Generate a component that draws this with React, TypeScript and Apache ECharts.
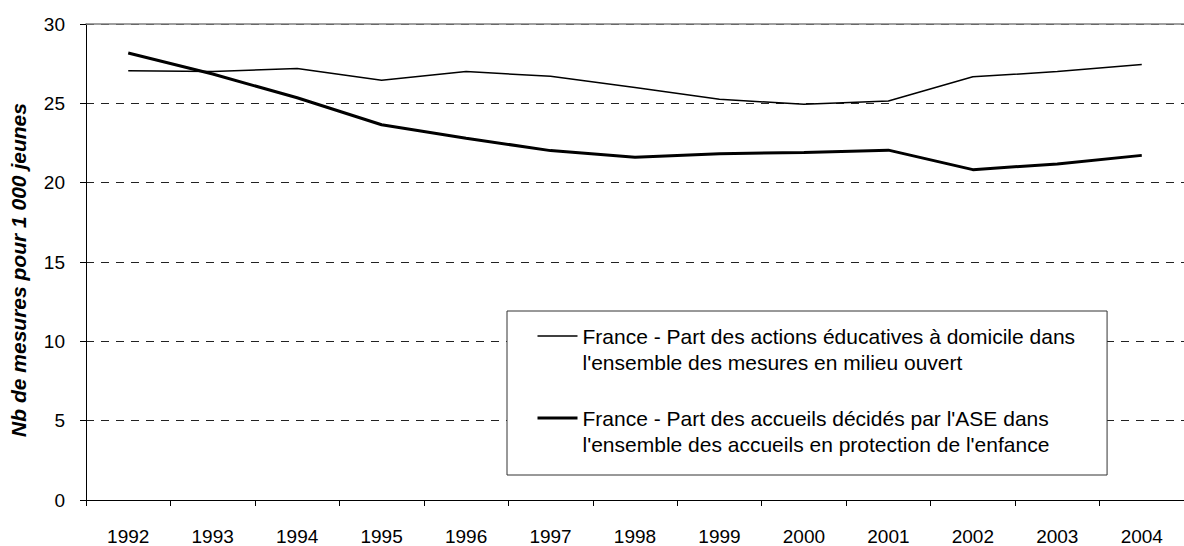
import React, { useEffect, useRef } from "react";
import * as echarts from "echarts";

const years = ["1992", "1993", "1994", "1995", "1996", "1997", "1998", "1999", "2000", "2001", "2002", "2003", "2004"];
const actionsEducatives = [27.05, 27.0, 27.2, 26.45, 27.0, 26.7, 26.0, 25.25, 24.95, 25.15, 26.67, 27.0, 27.45];
const accueilsASE = [28.17, 26.85, 25.35, 23.65, 22.8, 22.02, 21.6, 21.83, 21.9, 22.05, 20.82, 21.18, 21.72];
const seriesNames = [
  "France - Part des actions éducatives à domicile dans\nl'ensemble des mesures en milieu ouvert",
  "France - Part des accueils décidés par l'ASE dans\nl'ensemble des accueils en protection de l'enfance",
];
const lineWidths = [1.5, 3];
const yAxisTitle = "Nb de mesures pour 1 000 jeunes";

const FONT = "'Liberation Sans', Arial, sans-serif";

export default function App() {
  const ref = useRef<HTMLDivElement>(null);
  useEffect(() => {
    if (!ref.current) return;
    const chart = echarts.init(ref.current, null, { renderer: "svg" });
    const LH = 26;
    chart.setOption({
      animation: false,
      backgroundColor: "#ffffff",
      textStyle: { fontFamily: FONT },
      grid: { left: 85, top: 24, width: 1109.33, height: 480, containLabel: false },
      legend: {
        orient: "vertical",
        left: 507,
        top: 311,
        padding: [-14, 32, 18, 29],
        itemGap: 4,
        itemWidth: 40,
        itemHeight: 14,
        selectedMode: false,
        borderColor: "#333333",
        borderWidth: 1,
        backgroundColor: "#ffffff",
        itemStyle: { color: "transparent", borderColor: "transparent", borderWidth: 0, opacity: 0 },
        formatter: (name: string) => "\n" + name,
        textStyle: {
          fontFamily: FONT,
          fontSize: 21,
          color: "#000",
          lineHeight: LH,
        },
        data: seriesNames.map((n, i) => ({ name: n, lineStyle: { width: lineWidths[i], color: "#000" } })),
      },
      xAxis: [
        {
          type: "category",
          data: years,
          boundaryGap: true,
          position: "bottom",
          axisLine: { lineStyle: { color: "#000", width: 1 } },
          axisTick: { show: true, length: 6, lineStyle: { color: "#000" } },
          axisLabel: { color: "#000", fontSize: 19, fontFamily: FONT, margin: 27, interval: 0 },
          splitLine: { show: false },
        },
        {
          type: "category",
          data: years,
          position: "top",
          axisLine: { lineStyle: { color: "#808080", width: 1.5 } },
          axisTick: { show: false },
          axisLabel: { show: false },
          splitLine: { show: false },
        },
      ],
      yAxis: {
        type: "value",
        min: 0,
        max: 30,
        interval: 5,
        name: yAxisTitle,
        nameLocation: "middle",
        nameGap: 57,
        nameRotate: 90,
        nameTextStyle: {
          fontFamily: FONT,
          fontSize: 21,
          fontWeight: "bold",
          fontStyle: "italic",
          color: "#000",
          padding: [0, 16, 0, 0],
        },
        axisLine: { show: true, lineStyle: { color: "#000", width: 1 } },
        axisTick: { show: true, length: 6, lineStyle: { color: "#000" } },
        axisLabel: { color: "#000", fontSize: 19, fontFamily: FONT, margin: 21, padding: [0, 0, 6, 0] },
        splitLine: { show: true, lineStyle: { color: "#222", width: 1, type: [8, 7] } },
      },
      series: [
        {
          name: seriesNames[0],
          type: "line",
          data: actionsEducatives,
          symbol: "none",
          lineStyle: { color: "#000", width: lineWidths[0] },
          itemStyle: { color: "#000" },
        },
        {
          name: seriesNames[1],
          type: "line",
          data: accueilsASE,
          symbol: "none",
          lineStyle: { color: "#000", width: lineWidths[1] },
          itemStyle: { color: "#000" },
        },
      ],
    });
    return () => chart.dispose();
  }, []);
  return <div ref={ref} style={{ position: "fixed", left: 0, top: 0, width: 1184, height: 546 }} />;
}
